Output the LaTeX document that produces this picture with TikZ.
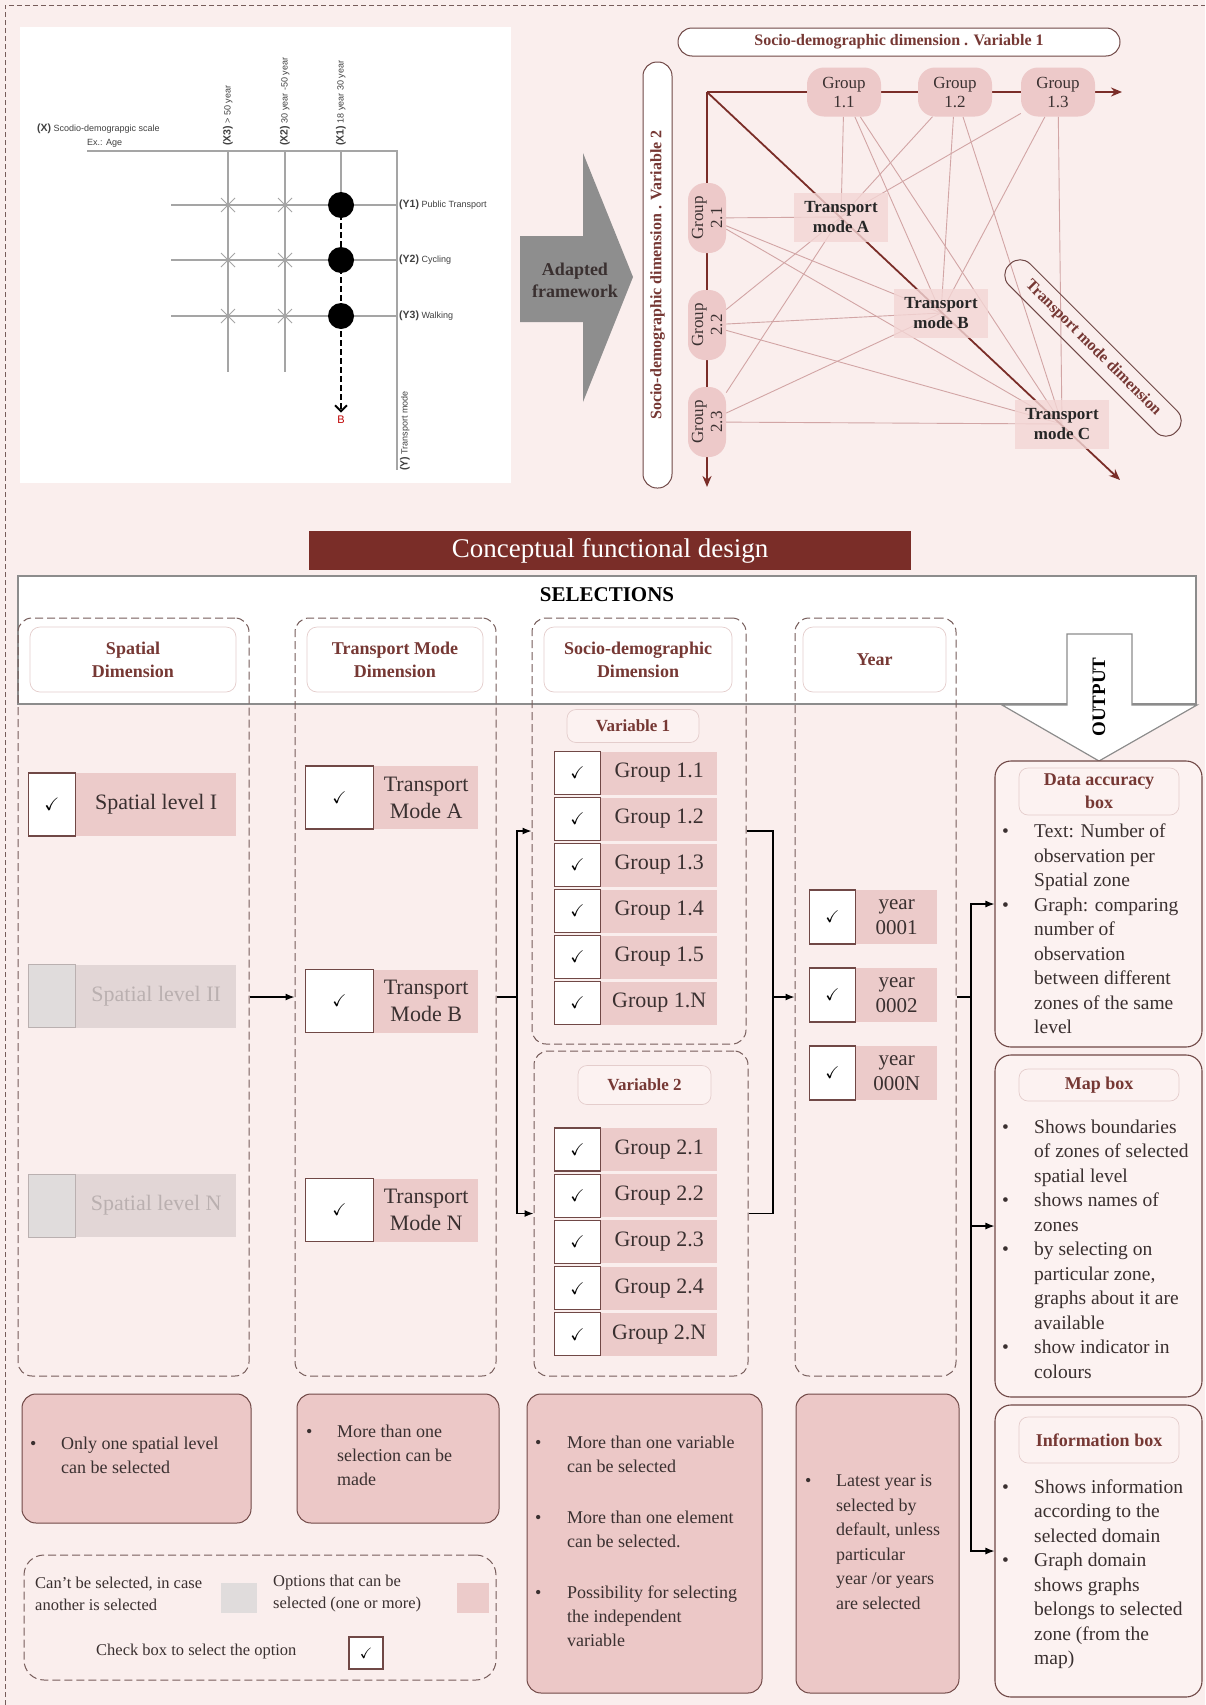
\documentclass[tikz,border=0pt]{standalone}
\usepackage{fontspec}
\setmainfont{Liberation Serif}
\setsansfont{Liberation Sans}
\usepackage{amssymb}
\usetikzlibrary{arrows.meta,backgrounds}
\definecolor{pagepink}{RGB}{250,238,237}
\definecolor{optpink}{RGB}{236,203,202}
\definecolor{notepink}{RGB}{236,200,199}
\definecolor{deepbrown}{RGB}{122,45,40}
\definecolor{linebrown}{RGB}{112,72,70}
\definecolor{dashbrown}{RGB}{118,92,90}
\definecolor{netpink}{RGB}{210,165,165}
\definecolor{grppink}{RGB}{237,201,201}
\definecolor{modepink}{RGB}{243,214,213}
\definecolor{titlebrown}{RGB}{118,56,52}
\definecolor{textgray}{RGB}{58,48,48}
\definecolor{headline}{RGB}{228,205,204}
\definecolor{offgray}{RGB}{224,220,220}
\definecolor{offlabelc}{RGB}{226,214,214}
\definecolor{offtext}{RGB}{186,176,176}
\definecolor{chartgray}{RGB}{165,165,165}
\definecolor{arrowgray}{RGB}{142,142,142}
\definecolor{outfill}{RGB}{252,242,241}
\newcommand{\fsz}[2]{\fontsize{#1}{#2}\selectfont}
\tikzset{
  pageframe/.style={draw=dashbrown,line width=0.9pt,dash pattern=on 5pt off 3pt},
  colbox/.style={draw=dashbrown,line width=1pt,dash pattern=on 8pt off 4pt,
                 rounded corners=14pt,inner sep=0pt},
  headbox/.style={draw=headline,fill=white,rounded corners=10pt,line width=0.7pt,
                  align=center,text=titlebrown,font=\bfseries\fsz{18}{23}},
  tickbox/.style={draw=linebrown,fill=white,line width=1.1pt,inner sep=0pt,
                  font=\fsz{17}{17}},
  optlabel/.style={fill=optpink,inner sep=0pt,align=center,text=textgray},
  offbox/.style={draw=offtext,fill=offgray,line width=1pt,inner sep=0pt},
  offlabel/.style={fill=offlabelc,inner sep=0pt,align=center,text=offtext},
  flow/.style={-{Latex[length=9pt,width=7pt]},line width=1.2pt,draw=black},
  plainflow/.style={line width=1.2pt,draw=black},
  notebox/.style={draw=linebrown,fill=notepink,rounded corners=14pt,line width=1pt},
  outbox/.style={draw=linebrown,fill=outfill,rounded corners=16pt,line width=1.1pt},
  subtitle/.style={draw=headline,fill=outfill,rounded corners=9pt,line width=0.7pt,
                   text=titlebrown,font=\bfseries\fsz{18}{23},align=center},
  bultext/.style={anchor=west,inner sep=0pt,text=textgray},
  legtext/.style={anchor=west,inner sep=0pt,align=left,text=textgray,font=\fsz{16.5}{22}},
  chartline/.style={draw=chartgray,line width=1.4pt},
  charttext/.style={inner sep=1pt,font=\sffamily\fsz{9}{10},text=black!75},
  netbanner/.style={draw=linebrown,fill=white,rounded corners=14pt,line width=1pt,
                    text=titlebrown,font=\bfseries\fsz{16}{18}},
  netgroup/.style={fill=grppink,rounded corners=17pt,align=center,inner sep=1pt,
                   text=textgray,font=\fsz{17}{19}},
  netmode/.style={fill=modepink,fill opacity=0.8,text opacity=1,align=center,
                  inner sep=1pt,minimum width=94,minimum height=49,
                  text=black!85,font=\bfseries\fsz{17}{20}},
  netline/.style={draw=netpink,line width=0.9pt},
  netaxis/.style={draw=deepbrown,line width=2pt,-{Stealth[length=11pt,width=9pt]}},
}
\begin{document}
\begin{tikzpicture}[x=1pt,y=-1pt,font=\fsz{18}{22}]
  \useasboundingbox (0,0) rectangle (1205,1705);
  \begin{scope}[on background layer]
    \fill[pagepink] (0,0) rectangle (1205,1705);
  \end{scope}
  \draw[pageframe] (5,1705) -- (5,5) -- (1205,5);

  %% original framework (top left)
  \node[fill=white,anchor=north west,minimum width=491,minimum height=456,inner sep=0pt]
    (chartpanel) at (20,27) {};
  \draw[chartline] (87,151) -- (397,151) -- (397,470);
  \foreach \x in {228,285} \draw[chartline] (\x,151) -- (\x,372);
  \draw[chartline] (341,151) -- (341,205);
  \foreach \y in {205,260,316} \draw[chartline] (171,\y) -- (397,\y);
  \foreach \x in {228,285}
    \foreach \y in {205,260,316}
      \draw[draw=chartgray,line width=0.8pt] ({\x-7},{\y-7}) -- ({\x+7},{\y+7})
        ({\x-7},{\y+7}) -- ({\x+7},{\y-7});
  \foreach \y [count=\i] in {205,260,316}
    \node[circle,fill=black,minimum size=26,inner sep=0pt] (pick\i) at (341,\y) {};
  \node[font=\sffamily\fsz{11}{12},text=red!75!black] (bend) at (341,420) {B};
  \draw[line width=2.6pt,dash pattern=on 6pt off 3pt,
        -{Straight Barb[length=6pt,width=12pt,line width=2pt]}] (pick1.center) -- (bend.north);
  \node[charttext,anchor=west] (xlab) at (36,129)
    {{\bfseries\fsz{10.5}{11}(X)} Scodio-demograpgic scale};
  \node[charttext,anchor=west] (agelab) at (86,143) {Ex.: Age};
  \node[charttext,rotate=90,anchor=west] (x3lab) at (228,147) {{\bfseries\fsz{10.5}{11}(X3)} > 50 year};
  \node[charttext,rotate=90,anchor=west] (x2lab) at (285,147) {{\bfseries\fsz{10.5}{11}(X2)} 30 year -50 year};
  \node[charttext,rotate=90,anchor=west] (x1lab) at (341,147) {{\bfseries\fsz{10.5}{11}(X1)} 18 year 30 year};
  \node[charttext,anchor=west] (y1lab) at (398,205) {{\bfseries\fsz{10.5}{11}(Y1)} Public Transport};
  \node[charttext,anchor=west] (y2lab) at (398,260) {{\bfseries\fsz{10.5}{11}(Y2)} Cycling};
  \node[charttext,anchor=west] (y3lab) at (398,316) {{\bfseries\fsz{10.5}{11}(Y3)} Walking};
  \node[charttext,rotate=90,anchor=west] (ylab) at (405,472) {{\bfseries\fsz{10.5}{11}(Y)} Transport mode};

  %% adapted framework arrow
  \fill[arrowgray] (520,236) -- (583,236) -- (583,153) -- (633,277) -- (583,402)
    -- (583,322) -- (520,322) -- cycle;
  \node[align=center,text=textgray,font=\bfseries\fsz{18}{22}] (adapted) at (575,280)
    {Adapted\\framework};

  %% adapted framework network (top right)
  \coordinate (netorigin) at (707,92);
  \coordinate (xtip) at (1122,92);
  \coordinate (ytip) at (707,487);
  \coordinate (dtip) at (1120,480);
  \node[netbanner,minimum width=442,minimum height=28] (var1banner) at (899,42)
    {Socio-demographic dimension . Variable 1};
  \node[netbanner,rotate=90,minimum width=426,minimum height=29] (var2banner) at (657.5,275)
    {Socio-demographic dimension . Variable 2};
  \node[netgroup,minimum width=74,minimum height=49] (grp11) at (844,92) {Group\\1.1};
  \node[netgroup,minimum width=74,minimum height=49] (grp12) at (955,92) {Group\\1.2};
  \node[netgroup,minimum width=74,minimum height=49] (grp13) at (1058,92) {Group\\1.3};
  \node[netgroup,rotate=90,minimum width=70,minimum height=38] (grp21) at (707,218) {Group\\2.1};
  \node[netgroup,rotate=90,minimum width=70,minimum height=38] (grp22) at (707,325) {Group\\2.2};
  \node[netgroup,rotate=90,minimum width=70,minimum height=38] (grp23) at (707,422) {Group\\2.3};
  \node[netmode] (modeA) at (841,217) {Transport\\mode A};
  \node[netmode] (modeB) at (941,313) {Transport\\mode B};
  \node[netmode] (modeC) at (1062,424) {Transport\\mode C};
  \node[netbanner,fill=none,rotate=-45,minimum width=236,minimum height=30] (tmbanner)
    at (1093,348) {Transport mode dimension};
  \begin{scope}[on background layer]
    \foreach \g in {grp11,grp12,grp13,grp21,grp22,grp23}
      \foreach \m in {modeA,modeB,modeC}
        \draw[netline] (\g) -- (\m.center);
    \draw[netaxis] (netorigin) -- (xtip);
    \draw[netaxis] (netorigin) -- (ytip);
    \draw[netaxis,line width=1.8pt] (netorigin) -- (dtip);
  \end{scope}

  %% conceptual functional design
  \node[fill=deepbrown,text=white,minimum width=602,minimum height=39,font=\fsz{27}{30}]
    (cfdesign) at (610,550.5) {Conceptual functional design};
  \node[draw=black!45,fill=white,line width=1.2pt,minimum width=1178,minimum height=128,
    inner sep=0pt] (selband) at (607,640) {};
  \node[font=\bfseries\fsz{21}{24}] (seltitle) at (607,595) {SELECTIONS};

  \node[colbox,minimum width=231,minimum height=758] (spatialcol) at (133.5,997) {};
  \node[colbox,minimum width=201,minimum height=758] (transportcol) at (395.5,997) {};
  \node[colbox,minimum width=214,minimum height=426] (var1col) at (639,831) {};
  \node[colbox,minimum width=214,minimum height=325] (var2col) at (641,1213.5) {};
  \node[colbox,minimum width=161,minimum height=758] (yearcol) at (875.5,997) {};

  \node[headbox,minimum width=206,minimum height=65] (spatialhead) at (133,659.5) {Spatial\\Dimension};
  \node[headbox,minimum width=176,minimum height=65] (transporthead) at (395,659.5) {Transport Mode\\Dimension};
  \node[headbox,minimum width=188,minimum height=65] (sociohead) at (638,659.5) {Socio-demographic\\Dimension};
  \node[headbox,minimum width=143,minimum height=65] (yearhead) at (874.5,659.5) {Year};

  %% output arrow
  \draw[fill=white,draw=black!45,line width=1.2pt] (1067,634) -- (1132,634) -- (1132,705)
    -- (1197,705) -- (1099,761) -- (1002,705) -- (1067,705) -- cycle;
  \node[rotate=90,font=\bfseries\fsz{19}{22}] (outlabel) at (1099,697) {OUTPUT};

  %% spatial levels
  \foreach \lvl/\yy/\bx/\lb/\mk in {I/804.5/tickbox/optlabel/$\checkmark$,
                                    II/996/offbox/offlabel/{},
                                    N/1205.5/offbox/offlabel/{}} {
    \node[\lb,minimum width=160,minimum height=63,anchor=west,font=\fsz{22}{26}]
      (sp\lvl) at (76,\yy) {Spatial level \lvl};
    \node[\bx,minimum width=47,minimum height=63,anchor=east,font=\fsz{18}{18}]
      (tsp\lvl) at (sp\lvl.west) {\mk};
  }
  %% transport modes
  \foreach \m/\yy in {A/797.5,B/1001,N/1210} {
    \node[optlabel,minimum width=104,minimum height=63,anchor=west,font=\fsz{22}{27}]
      (tm\m) at (374,\yy) {Transport\\Mode \m};
    \node[tickbox,minimum width=68,minimum height=63,anchor=east] (ttm\m) at (tm\m.west) {$\checkmark$};
  }
  %% socio-demographic groups
  \node[subtitle,minimum width=132,minimum height=33,font=\bfseries\fsz{17}{20}] (var1title)
    at (633,726) {Variable 1};
  \node[subtitle,minimum width=133,minimum height=39,font=\bfseries\fsz{17}{20}] (var2title)
    at (644.5,1085) {Variable 2};
  \foreach \g [count=\i from 0] in {1,2,3,4,5,N} {
    \node[optlabel,minimum width=116,minimum height=43,anchor=west,font=\fsz{22}{24}]
      (ga\g) at (601,{773+46*\i}) {Group 1.\g};
    \node[tickbox,minimum width=46,minimum height=43,anchor=east] (tga\g) at (ga\g.west) {$\checkmark$};
  }
  \foreach \g [count=\i from 0] in {1,2,3,4,N} {
    \node[optlabel,minimum width=116,minimum height=43,anchor=west,font=\fsz{22}{24}]
      (gb\g) at (601,{1149.5+46.2*\i}) {Group 2.\g};
    \node[tickbox,minimum width=46,minimum height=43,anchor=east] (tgb\g) at (gb\g.west) {$\checkmark$};
  }
  %% years
  \foreach \yr [count=\i from 0] in {0001,0002,000N} {
    \node[optlabel,minimum width=81,minimum height=54,anchor=west,font=\fsz{21}{25}]
      (yr\i) at (856,{917+78*\i}) {year\\\yr};
    \node[tickbox,minimum width=46,minimum height=54,anchor=east] (tyr\i) at (yr\i.west) {$\checkmark$};
  }

  %% output boxes
  \node[outbox,minimum width=207,minimum height=286] (databox) at (1098.5,904) {};
  \node[outbox,minimum width=207,minimum height=342] (mapbox) at (1098.5,1226) {};
  \node[outbox,minimum width=207,minimum height=292] (infobox) at (1098.5,1551) {};
  \node[subtitle,minimum width=160,minimum height=47] (datatitle) at (1099,791.5) {Data accuracy\\box};
  \node[subtitle,minimum width=160,minimum height=32] (maptitle) at (1099,1085) {Map box};
  \node[subtitle,minimum width=160,minimum height=46] (infotitle) at (1099,1440) {Information box};
  \node[bultext,font=\fsz{19.5}{24.5}] (datatext) at (1002,931)
    {\begin{tabular}{@{}p{32pt}@{}l@{}}
      \textbullet & Text: Number of\\ & observation per\\ & Spatial zone\\
      \textbullet & Graph: comparing\\ & number of\\ & observation\\
                  & between different\\ & zones of the same\\ & level
     \end{tabular}};
  \node[bultext,font=\fsz{19.5}{24.5}] (maptext) at (1002,1251)
    {\begin{tabular}{@{}p{32pt}@{}l@{}}
      \textbullet & Shows boundaries\\ & of zones of selected\\ & spatial level\\
      \textbullet & shows names of\\ & zones\\
      \textbullet & by selecting on\\ & particular zone,\\ & graphs about it are\\ & available\\
      \textbullet & show indicator in\\ & colours
     \end{tabular}};
  \node[bultext,font=\fsz{19.5}{24.5}] (infotext) at (1002,1574)
    {\begin{tabular}{@{}p{32pt}@{}l@{}}
      \textbullet & Shows information\\ & according to the\\ & selected domain\\
      \textbullet & Graph domain\\ & shows graphs\\ & belongs to selected\\
                  & zone (from the\\ & map)
     \end{tabular}};

  %% connectors
  \draw[flow] (spatialcol.east) -- (transportcol.west);
  \coordinate (tjoin) at (517,997);
  \draw[plainflow] (transportcol.east) -- (tjoin);
  \draw[flow] (tjoin) |- (var1col.west);
  \draw[flow] (tjoin) |- (var2col.west);
  \coordinate (sjoin) at (773,997);
  \draw[plainflow] (var1col.east) -| (sjoin);
  \draw[plainflow] (var2col.east) -| (sjoin);
  \draw[flow] (sjoin) -- (yearcol.west);
  \coordinate (yjoin) at (971,997);
  \draw[plainflow] (yearcol.east) -- (yjoin);
  \draw[flow] (yjoin) |- (databox.west);
  \draw[flow] (yjoin) |- (mapbox.west);
  \draw[flow] (yjoin) |- (infobox.west);

  %% rules of selection
  \node[notebox,minimum width=229,minimum height=129] (spatialnote) at (136.5,1458.5) {};
  \node[notebox,minimum width=202,minimum height=129] (transportnote) at (398,1458.5) {};
  \node[notebox,minimum width=235,minimum height=299] (socionote) at (644.5,1543.5) {};
  \node[notebox,minimum width=163,minimum height=299] (yearnote) at (877.5,1543.5) {};
  \node[bultext,font=\fsz{18}{24}] (spatialrule) at (30,1457)
    {\begin{tabular}{@{}p{31pt}@{}l@{}}
      \textbullet & Only one spatial level\\ & can be selected
     \end{tabular}};
  \node[bultext,font=\fsz{18}{24}] (transportrule) at (306,1457)
    {\begin{tabular}{@{}p{31pt}@{}l@{}}
      \textbullet & More than one\\ & selection can be\\ & made
     \end{tabular}};
  \node[bultext,font=\fsz{18}{24}] (sociorule) at (535,1543)
    {\begin{tabular}{@{}p{32pt}@{}l@{}}
      \textbullet & More than one variable\\ & can be selected\\[27pt]
      \textbullet & More than one element\\ & can be selected.\\[27pt]
      \textbullet & Possibility for selecting\\ & the independent\\ & variable
     \end{tabular}};
  \node[bultext,font=\fsz{18}{24.5}] (yearrule) at (805,1543)
    {\begin{tabular}{@{}p{31pt}@{}l@{}}
      \textbullet & Latest year is\\ & selected by\\ & default, unless\\
                  & particular\\ & year /or years\\ & are selected
     \end{tabular}};

  %% legend
  \node[colbox,rounded corners=20pt,minimum width=472,minimum height=125] (legendbox) at (260,1617.5) {};
  \node[legtext] (cantsel) at (35,1594) {Can't be selected, in case\\another is selected};
  \node[fill=offgray,minimum width=36,minimum height=30,inner sep=0pt] (graykey) at (239,1598) {};
  \node[legtext] (cansel) at (273,1594) {Options that can be\\selected (one or more)};
  \node[fill=optpink,minimum width=32,minimum height=30,inner sep=0pt] (pinkkey) at (473,1598) {};
  \node[legtext] (checktext) at (96,1652) {Check box to select the option};
  \node[tickbox,minimum width=34,minimum height=32,font=\fsz{15}{15}] (checkkey) at (366,1653) {$\checkmark$};
\end{tikzpicture}
\end{document}
